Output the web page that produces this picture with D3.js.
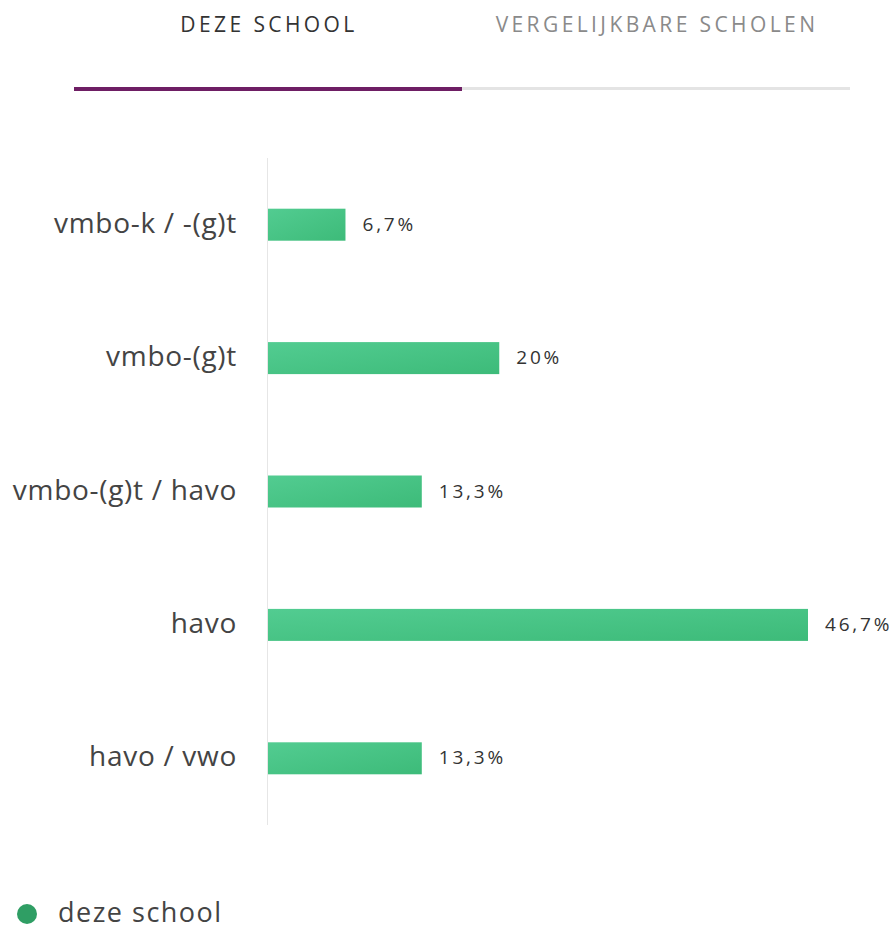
<!DOCTYPE html>
<html><head><meta charset="utf-8">
<script src="https://cdn.jsdelivr.net/npm/d3@7"></script>
<style>body{margin:0;background:#fff;} svg{display:block;}</style>
</head><body>
<svg id="c" width="896" height="931"></svg>
<script>
const categories = ["vmbo-k / -(g)t", "vmbo-(g)t", "vmbo-(g)t / havo", "havo", "havo / vwo"];
const values = [6.7, 20, 13.3, 46.7, 13.3];
const valueLabels = ["6,7%", "20%", "13,3%", "46,7%", "13,3%"];
const tabs = ["DEZE SCHOOL", "VERGELIJKBARE SCHOLEN"];
const legendLabel = "deze school";

const font = "'Open Sans', sans-serif";
const svg = d3.select("#c");

// gradient
const defs = svg.append("defs");
const g = defs.append("linearGradient").attr("id","bg").attr("x1","0%").attr("x2","100%").attr("y1","0%").attr("y2","100%");
g.append("stop").attr("offset","0%").attr("stop-color","#52cc91");
g.append("stop").attr("offset","100%").attr("stop-color","#3dbb79");

// tabs
const tabX = d3.scaleBand().domain(tabs).range([74, 850]);
svg.selectAll("text.tab").data(tabs).join("text")
  .attr("x", d => tabX(d) + tabX.bandwidth()/2 + 1)
  .attr("y", 32)
  .attr("text-anchor","middle")
  .attr("font-family", font)
  .attr("font-size", 21)
  .attr("font-weight", 500)
  .attr("letter-spacing", 3.4)
  .attr("fill", (d,i) => i===0 ? "#333" : "#8a8a8a")
  .text(d => d);
svg.append("rect").attr("x", tabX(tabs[1])).attr("y", 87).attr("width", tabX.bandwidth()).attr("height", 3).attr("fill","#e4e4e4");
svg.append("rect").attr("x", tabX(tabs[0])).attr("y", 87).attr("width", tabX.bandwidth()).attr("height", 4).attr("fill","#6e1e64");

// chart
const x = d3.scaleLinear().domain([0, 46.7]).range([268, 808]);
const y = d3.scaleBand().domain(categories).range([158, 825]);
const bh = 32;

svg.append("line").attr("x1",267.5).attr("x2",267.5).attr("y1",158).attr("y2",825).attr("stroke","#e6e6e6").attr("stroke-width",1);

svg.selectAll("rect.bar").data(values).join("rect")
  .attr("x", x(0))
  .attr("y", (d,i) => y(categories[i]) + y.bandwidth()/2 - bh/2)
  .attr("width", d => x(d) - x(0))
  .attr("height", bh)
  .attr("fill", "url(#bg)");

svg.selectAll("text.val").data(values).join("text")
  .attr("x", d => x(d) + 17)
  .attr("y", (d,i) => y(categories[i]) + y.bandwidth()/2 + 6)
  .attr("font-family", font)
  .attr("font-size", 19)
  .attr("fill", "#333")
  .attr("letter-spacing", 2.8)
  .text((d,i) => valueLabels[i]);

svg.selectAll("text.cat").data(categories).join("text")
  .attr("x", 237)
  .attr("y", d => y(d) + y.bandwidth()/2 + 8)
  .attr("text-anchor","end")
  .attr("font-family", font)
  .attr("font-size", 28)
  .attr("fill", "#444")
  .attr("letter-spacing", 0.7)
  .text(d => d);

// legend
svg.append("circle").attr("cx",27).attr("cy",914).attr("r",10).attr("fill","#2f9e64");
svg.append("text").attr("x",58).attr("y",922).attr("font-family",font).attr("font-size",27).attr("fill","#444").attr("letter-spacing",1.5).text(legendLabel);
</script>
</body></html>
